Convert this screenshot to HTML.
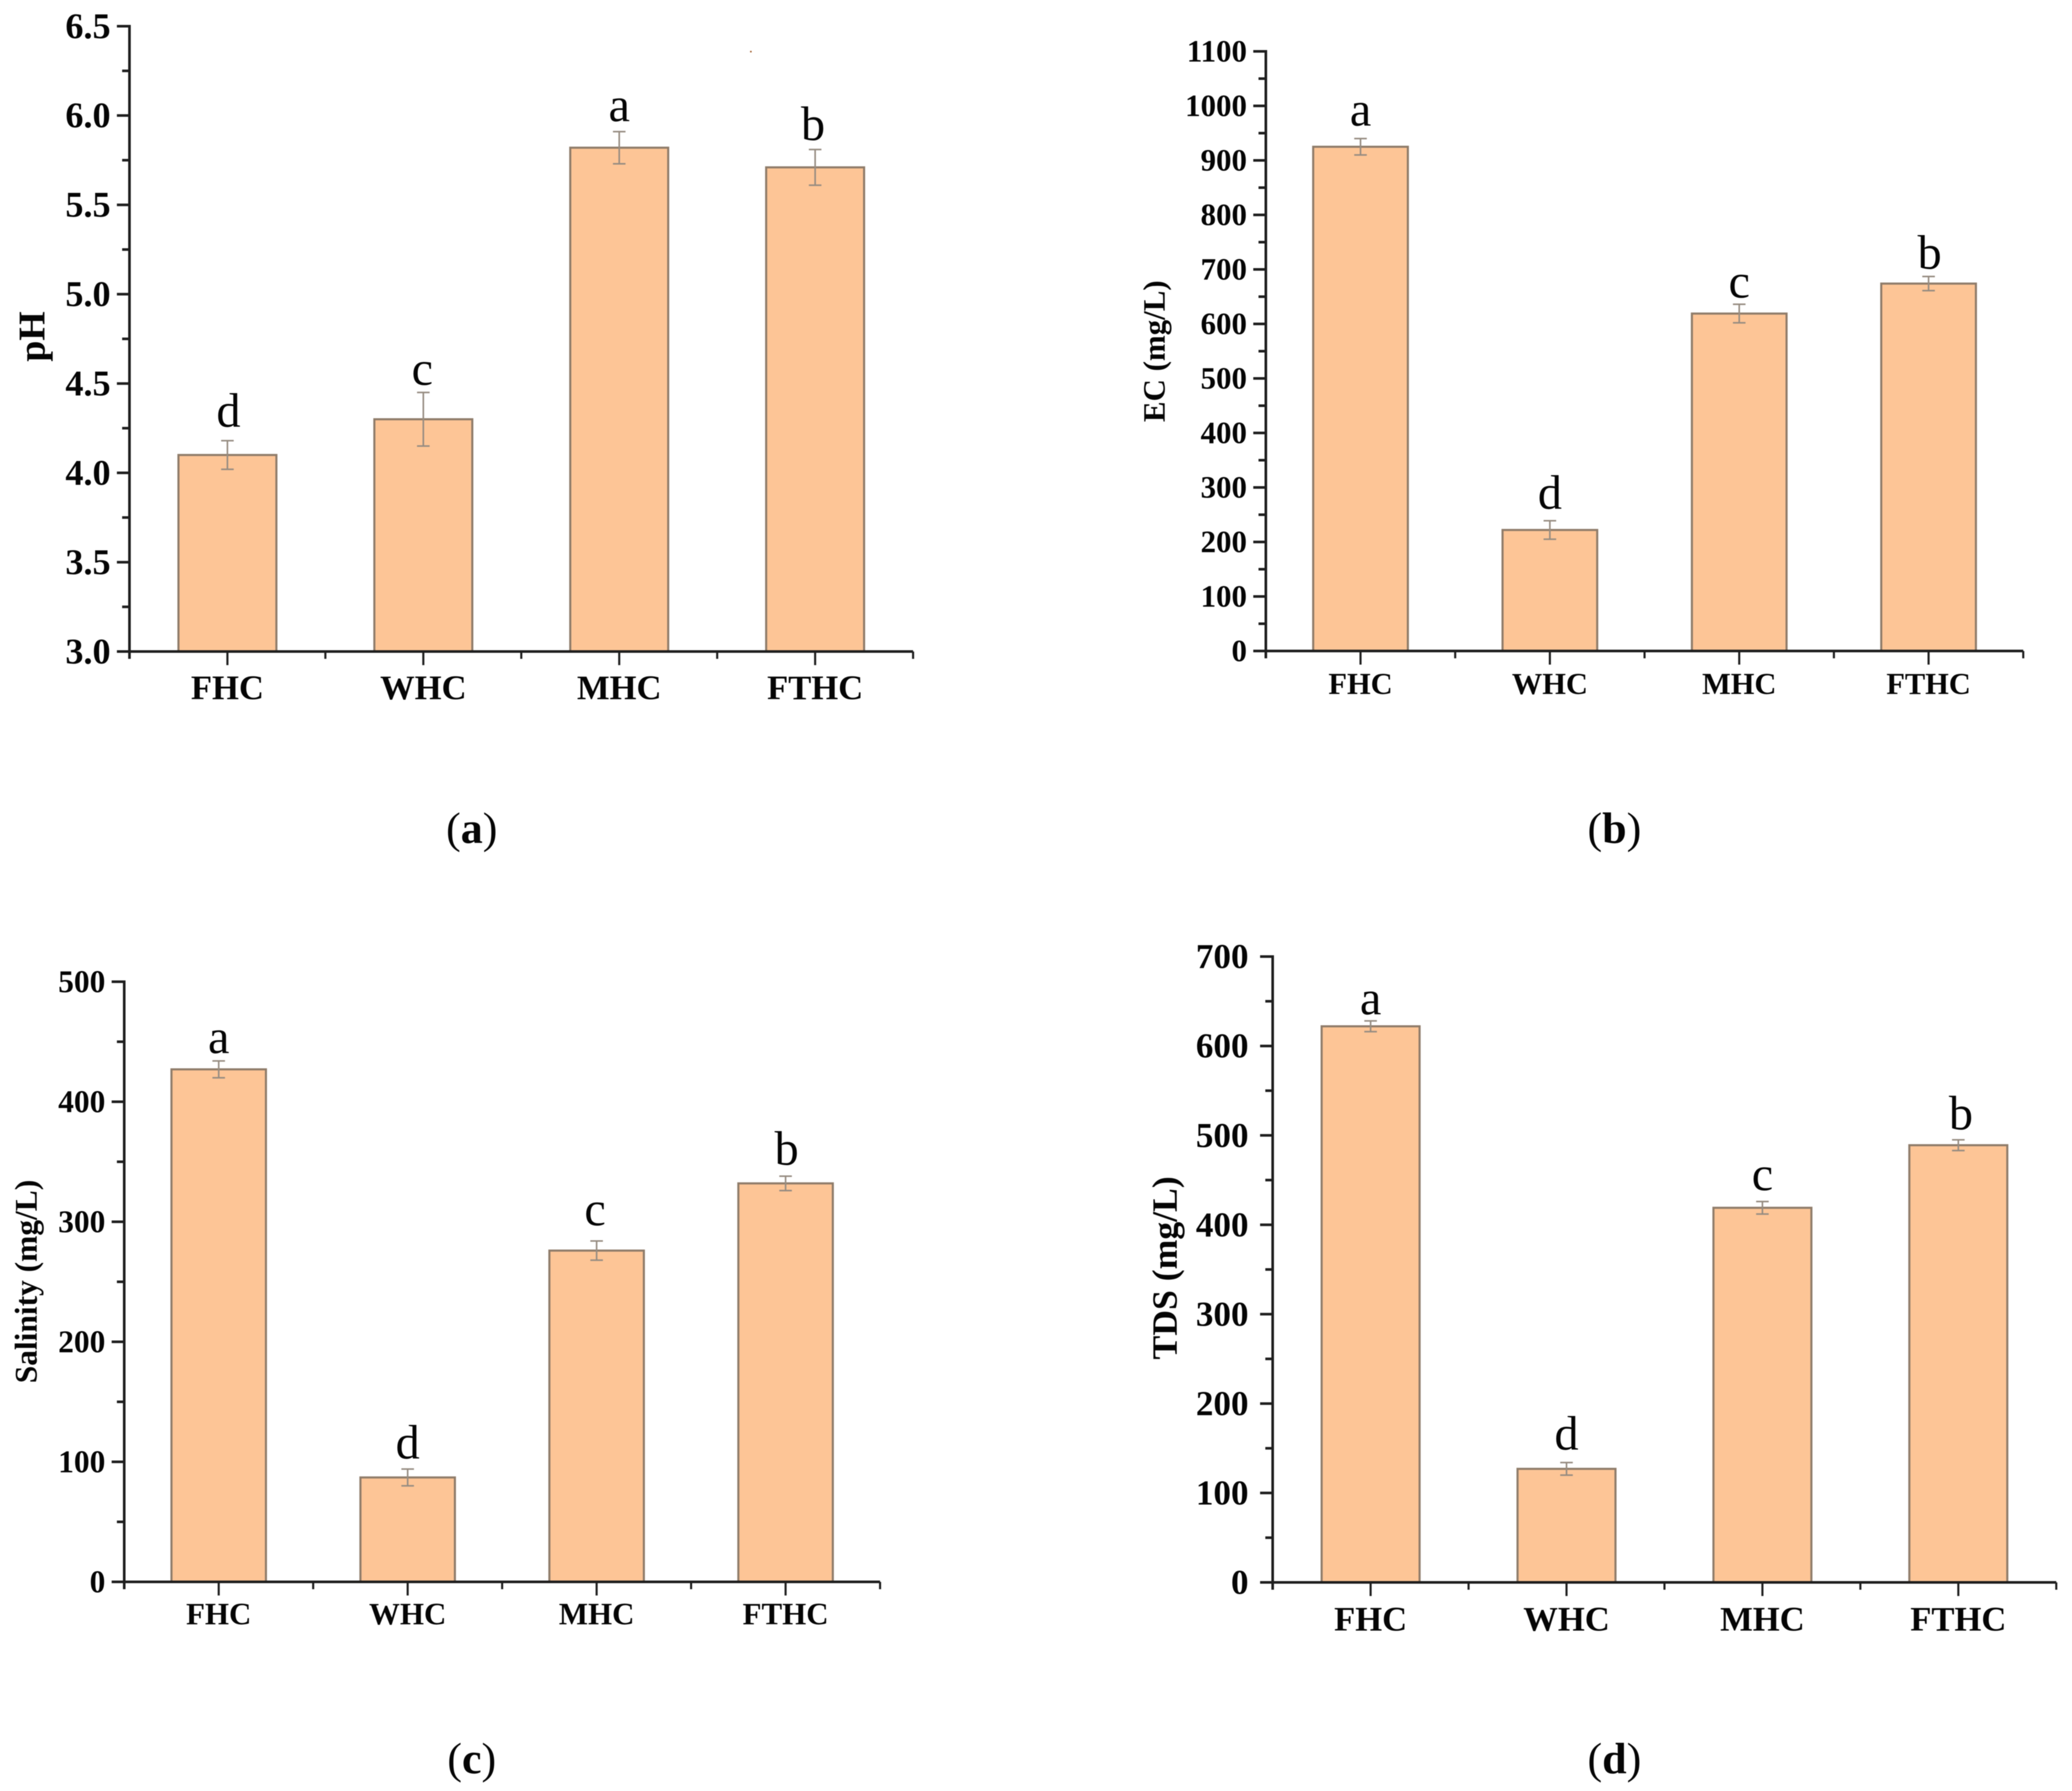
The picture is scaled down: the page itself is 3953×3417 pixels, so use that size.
<!DOCTYPE html>
<html lang="en">
<head>
<meta charset="utf-8">
<title>Soil property bar charts</title>
<style>
  html, body { margin: 0; padding: 0; background: #fff; }
  #figure { display: block; width: 3953px; height: 3417px; filter: blur(0.8px); }
  text { font-family: "Liberation Serif", serif; fill: #050505; }
</style>
</head>
<body>
<svg id="figure" xmlns="http://www.w3.org/2000/svg" width="3953" height="3417" viewBox="0 0 3953 3417">
  <rect x="0" y="0" width="3953" height="3417" fill="#ffffff"/>
  <rect x="1431" y="97" width="3" height="3" fill="#a06030"/>
</svg>
<script>
// ---- chart data ----
const categories = ['FHC', 'WHC', 'MHC', 'FTHC'];
const groupLetters_ph = ['d', 'c', 'a', 'b'];
const groupLetters_ec = ['a', 'd', 'c', 'b'];
const groupLetters_salinity = ['a', 'd', 'c', 'b'];
const groupLetters_tds = ['a', 'd', 'c', 'b'];

const phValues = [4.1, 4.3, 5.82, 5.71];
const phErrors = [0.08, 0.15, 0.09, 0.1];
const phTicks = ['3.0', '3.5', '4.0', '4.5', '5.0', '5.5', '6.0', '6.5'];

const ecValues = [925, 222, 619, 674];
const ecErrors = [15, 17, 17, 13];
const ecTicks = ['0', '100', '200', '300', '400', '500', '600', '700', '800', '900', '1000', '1100'];

const salinityValues = [427, 87, 276, 332];
const salinityErrors = [7, 7, 8, 6];
const salinityTicks = ['0', '100', '200', '300', '400', '500'];

const tdsValues = [622, 127, 419, 489];
const tdsErrors = [6, 7, 7, 6];
const tdsTicks = ['0', '100', '200', '300', '400', '500', '600', '700'];

// ---- panel layout (separate from data) ----
const panels = [
  { id: 'ph', caption: 'a', title: 'pH', values: phValues, errors: phErrors, ticks: phTicks, letters: groupLetters_ph,
    left: 247, right: 1742, top: 50, base: 1243, tickSize: 69, tickGap: 36, catSize: 66, catY: 1334, titleSize: 72, titleX: 61, titleY: 642, capX: 900, capY: 1608,
    letterGaps: [27, 15, 20, 18], letterNudges: [2, -2, 0, -4] },
  { id: 'ec', caption: 'b', title: 'EC (mg/L)', values: ecValues, errors: ecErrors, ticks: ecTicks, letters: groupLetters_ec,
    left: 2415, right: 3860, top: 98, base: 1242, tickSize: 59, tickGap: 36, catSize: 58, catY: 1324, titleSize: 59, titleX: 2202, titleY: 670, capX: 3080, capY: 1608,
    letterGaps: [25, 23, 13, 15], letterNudges: [0, 0, 0, 2] },
  { id: 'salinity', caption: 'c', title: 'Salinity (mg/L)', values: salinityValues, errors: salinityErrors, ticks: salinityTicks, letters: groupLetters_salinity,
    left: 237, right: 1679, top: 1873, base: 3018, tickSize: 60, tickGap: 36, catSize: 59, catY: 3099, titleSize: 60, titleX: 50, titleY: 2445, capX: 900, capY: 3383,
    letterGaps: [15, 20, 30, 22], letterNudges: [0, 0, -3, 2] },
  { id: 'tds', caption: 'd', title: 'TDS (mg/L)', values: tdsValues, errors: tdsErrors, ticks: tdsTicks, letters: groupLetters_tds,
    left: 2428, right: 3923, top: 1825, base: 3019, tickSize: 67, tickGap: 46, catSize: 66, catY: 3111, titleSize: 68, titleX: 2222, titleY: 2419, capX: 3080, capY: 3383,
    letterGaps: [13, 25, 22, 20], letterNudges: [0, 0, 0, 5] }
];

const SVG_NS = 'http://www.w3.org/2000/svg';
const root = document.getElementById('figure');

function make(parent, tag, attrs, content) {
  const el = document.createElementNS(SVG_NS, tag);
  Object.keys(attrs).forEach(function (k) { el.setAttribute(k, attrs[k]); });
  if (content !== undefined) el.textContent = content;
  parent.appendChild(el);
  return el;
}

const AXIS = '#1e1e1e';
const BAR_FILL = '#fdc596';
const BAR_EDGE = '#8f7c6a';
const ERR = '#968c81';

panels.forEach(function (p) {
  const group = make(root, 'g', {});
  
  

  const tickNums = p.ticks.map(Number);
  const yMin = tickNums[0];
  const yMax = tickNums[tickNums.length - 1];
  const yScale = function (v) { return p.base - (v - yMin) / (yMax - yMin) * (p.base - p.top); };
  const step = (p.right - p.left) / categories.length;
  const xScale = function (i) { return p.left + step * (i + 0.5); };
  const barW = step / 2;

  // bars
  categories.forEach(function (cat, i) {
    const top = yScale(p.values[i]);
    const bar = make(group, 'rect', { x: xScale(i) - barW / 2, y: top, width: barW, height: p.base - top, fill: BAR_FILL, stroke: BAR_EDGE, 'stroke-width': 4 });
    
    

    const hi = yScale(p.values[i] + p.errors[i]);
    const lo = yScale(p.values[i] - p.errors[i]);
    const cx = xScale(i);
    const err = make(group, 'path', { d: 'M' + cx + ' ' + hi + 'V' + lo + 'M' + (cx - 12) + ' ' + hi + 'H' + (cx + 12) + 'M' + (cx - 12) + ' ' + lo + 'H' + (cx + 12), stroke: ERR, 'stroke-width': 3, fill: 'none' });
    
    

    const letter = make(group, 'text', { x: cx + p.letterNudges[i], y: hi - p.letterGaps[i], 'text-anchor': 'middle', 'font-size': 92 }, p.letters[i]);
    
    

    const catLabel = make(group, 'text', { x: cx, y: p.catY, 'text-anchor': 'middle', 'font-size': p.catSize, 'font-weight': 'bold' }, cat);
    
    
  });

  // y axis ticks and labels
  tickNums.forEach(function (v, i) {
    const y = yScale(v);
    const major = make(group, 'line', { x1: p.left - 24, x2: p.left, y1: y, y2: y, stroke: AXIS, 'stroke-width': 5 });
    
    

    const label = make(group, 'text', { x: p.left - p.tickGap, y: y + p.tickSize * 0.33, 'text-anchor': 'end', 'font-size': p.tickSize, 'font-weight': 'bold' }, p.ticks[i]);
    
    

    if (i < tickNums.length - 1) {
      const ym = yScale((v + tickNums[i + 1]) / 2);
      const minor = make(group, 'line', { x1: p.left - 14, x2: p.left, y1: ym, y2: ym, stroke: AXIS, 'stroke-width': 5 });
      
      
    }
  });

  // x axis ticks
  for (let i = 0; i <= categories.length; i++) {
    const xb = p.left + step * i;
    const minorX = make(group, 'line', { x1: xb, x2: xb, y1: p.base, y2: p.base + 14, stroke: AXIS, 'stroke-width': 4 });
    
    
    if (i < categories.length) {
      const xc = xScale(i);
      const majorX = make(group, 'line', { x1: xc, x2: xc, y1: p.base, y2: p.base + 26, stroke: AXIS, 'stroke-width': 4 });
      
      
    }
  }

  // axis lines
  const yAxis = make(group, 'line', { x1: p.left, x2: p.left, y1: p.top - 2.5, y2: p.base + 14, stroke: AXIS, 'stroke-width': 5 });
  
  

  const xAxis = make(group, 'line', { x1: p.left - 24, x2: p.right, y1: p.base, y2: p.base, stroke: AXIS, 'stroke-width': 5 });
  
  

  // y axis title
  const title = make(group, 'text', { x: p.titleX, y: p.titleY, 'text-anchor': 'middle', 'dominant-baseline': 'central', 'font-size': p.titleSize, 'font-weight': 'bold', transform: 'rotate(-90 ' + p.titleX + ' ' + p.titleY + ')' }, p.title);
  
  

  // panel caption
  const cap = make(group, 'text', { x: p.capX, y: p.capY, 'text-anchor': 'middle', 'font-size': 84 });
  
  
  make(cap, 'tspan', {}, '(');
  make(cap, 'tspan', { 'font-weight': 'bold' }, p.caption);
  make(cap, 'tspan', {}, ')');
});
</script>
</body>
</html>
